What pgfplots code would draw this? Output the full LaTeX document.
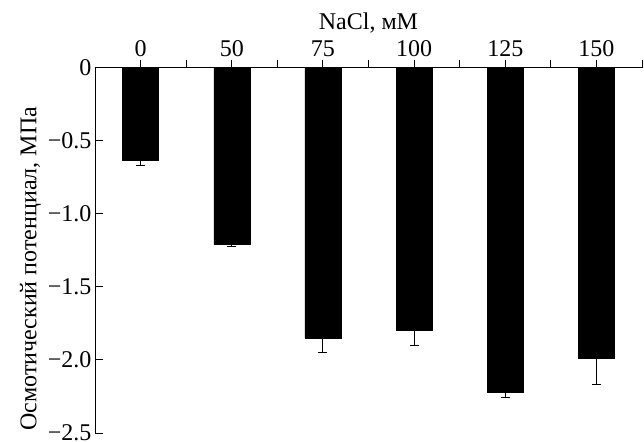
\documentclass[border=0pt]{standalone}
\usepackage{fontspec}
\setmainfont{Liberation Serif}
\usepackage{pgfplots}
\pgfplotsset{compat=1.18}
\begin{document}
\begin{tikzpicture}[x=1pt,y=1pt]
\useasboundingbox (0,0) rectangle (644,441);
\begin{axis}[
  at={(95pt,8pt)}, anchor=south west,
  scale only axis, width=547pt, height=365pt,
  font=\fontsize{24}{28}\selectfont,
  xmin=-0.5, xmax=5.5, ymin=-2.5, ymax=0,
  axis x line=top, axis y line=left,
  axis line style={-, line width=1pt},
  every tick/.style={black, line width=1pt},
  tick align=inside,
  major tick length=8pt, minor tick length=8pt,
  xtick={0,1,2,3,4,5},
  xticklabels={0,50,75,100,125,150},
  minor xtick={0.5,1.5,2.5,3.5,4.5,5.5},
  ytick={0,-0.5,-1,-1.5,-2,-2.5},
  yticklabels={0,−0.5,−1.0,−1.5,−2.0,−2.5},
  xlabel={NaCl, мМ},
  ylabel={Осмотический потенциал, МПа},
  ylabel style={at={(ticklabel cs:0.45)}},
  ybar, bar width=36pt,
]
\addplot[fill=black, draw=black,
  error bars/.cd, y dir=minus, y explicit,
  error bar style={line width=1pt, black},
  error mark options={rotate=90, mark size=4.5pt, line width=1pt, black}]
  table[x=x, y=y, y error=e] {
x y e
0 -0.63 0.035
1 -1.21 0.015
2 -1.85 0.10
3 -1.795 0.105
4 -2.22 0.035
5 -1.99 0.18
};
\end{axis}
\end{tikzpicture}
\end{document}
